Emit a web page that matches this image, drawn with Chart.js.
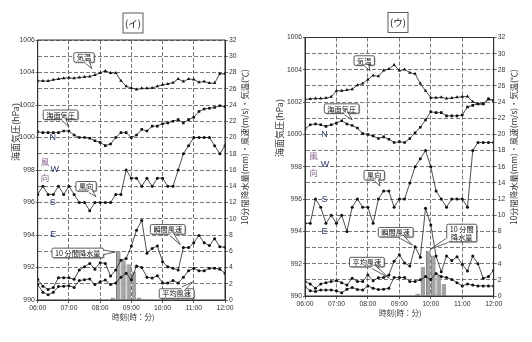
<!DOCTYPE html>
<html>
<head>
<meta charset="utf-8">
<script src="https://cdn.jsdelivr.net/npm/chart.js@4.4.1/dist/chart.umd.min.js"></script>
<style>
html, body { margin: 0; padding: 0; background: #fff; }
#wrap { position: relative; width: 532px; height: 342px; }
canvas { position: absolute; top: 0; }
</style>
</head>
<body>
<div id="wrap">
  <canvas id="c1" width="266" height="342" style="left:0"></canvas>
  <canvas id="c2" width="266" height="342" style="left:266px"></canvas>
</div>
<script>
// time axis: 06:00 - 12:00, every 10 minutes (minutes after 06:00)
const hourLabels = ['06:00', '07:00', '08:00', '09:00', '10:00', '11:00', '12:00'];
const minutes = [];
for (let m = 0; m <= 360; m += 10) minutes.push(m);

// wind direction letters -> value on the right axis
const dirLevels = { N: 20, W: 16, S: 12, E: 8 };

// (イ)
const tempA = [27.0, 26.95, 26.95, 27.1, 27.2, 27.3, 27.35, 27.3, 27.4, 27.45, 27.5, 27.7, 27.95, 28.2, 27.95, 27.95, 27.0, 26.3, 26.1, 25.9, 26.05, 26.05, 26.1, 26.3, 26.5, 26.6, 26.75, 27.2, 26.9, 27.2, 27.15, 26.8, 26.9, 26.7, 26.7, 27.85, 27.85];
const presA = [1000.35, 1000.3, 1000.3, 1000.3, 1000.3, 1000.4, 1000.4, 1000.15, 1000.0, 1000.0, 999.95, 999.8, 999.7, 999.5, 999.6, 1000.0, 1000.3, 1000.3, 1000.0, 1000.15, 1000.5, 1000.4, 1000.7, 1000.7, 1000.85, 1000.9, 1001.0, 1001.1, 1000.9, 1001.1, 1001.25, 1001.6, 1001.75, 1001.8, 1001.85, 1001.95, 1001.9];
const dirA = [13, 14, 13, 13, 14, 13, 14, 13, 12, 12, 11, 12, 12, 12, 12, 13, 13, 16, 15, 15, 14, 15, 14, 15, 15, 14, 14, 16, 18, 19, 20, 20, 20, 20, 19, 18, 19];
const gustA = [2.55, 1.7, 1.3, 1.55, 2.75, 2.75, 2.75, 2.55, 3.7, 4.1, 4.5, 3.8, 4.6, 4.5, 2.95, 3.7, 4.9, 5.1, 6.65, 8.6, 9.8, 5.75, 6.35, 6.65, 4.7, 4.1, 3.9, 3.7, 6.45, 6.45, 7.05, 7.95, 7.05, 6.7, 7.55, 6.55, 6.5];
const meanA = [1.9, 0.95, 0.65, 0.95, 1.65, 1.7, 1.75, 1.55, 2.4, 2.5, 2.6, 1.9, 2.25, 2.45, 1.9, 2.1, 2.8, 3.3, 2.5, 4.2, 4.0, 2.8, 2.7, 3.0, 2.1, 2.1, 2.4, 2.1, 2.8, 3.6, 3.9, 3.6, 3.6, 3.9, 3.9, 3.8, 3.3];
const rainEndA = [150, 160, 170, 180, 190, 200];   // end of each 10-minute period
const rainA = [0.3, 6.0, 4.9, 4.4, 3.5, 0.3];

// (ウ)
const tempB = [24.35, 24.4, 24.45, 24.45, 24.5, 24.65, 25.4, 25.4, 25.5, 25.6, 26.1, 26.3, 26.8, 27.3, 27.2, 27.9, 28.1, 28.6, 27.9, 28.05, 27.65, 27.5, 26.3, 25.4, 24.55, 24.55, 24.6, 24.45, 24.5, 24.6, 24.65, 24.7, 24.05, 23.75, 23.75, 24.35, 24.2];
const presB = [1000.35, 1000.6, 1000.65, 1000.6, 1000.5, 1000.6, 1000.7, 1000.85, 1000.65, 1000.55, 1000.4, 1000.05, 1000.0, 999.9, 999.75, 999.85, 999.7, 999.5, 999.55, 999.5, 999.75, 1000.1, 1000.45, 1000.9, 1001.4, 1001.35, 1001.35, 1001.15, 1001.15, 1001.15, 1001.2, 1001.7, 1001.8, 1001.9, 1001.9, 1002.2, 1002.1];
const dirB = [9, 9, 12, 11, 9, 10, 9, 10, 8, 11, 12, 11, 11, 9, 12, 13, 13, 11, 12, 12, 14, 16, 17, 18, 16, 13, 12, 11, 12, 12, 12, 11, 18, 19, 19, 19, 19];
const gustB = [1.8, 1.5, 0.95, 1.5, 1.65, 1.8, 1.9, 1.65, 1.35, 2.2, 1.8, 1.8, 2.6, 1.9, 2.25, 2.3, 2.6, 4.3, 5.1, 4.1, 3.7, 6.1, 4.8, 10.85, 8.8, 4.95, 3.0, 4.95, 4.4, 4.85, 3.9, 3.1, 4.95, 4.0, 2.2, 2.4, 3.2];
const meanB = [1.15, 0.65, 0.55, 0.75, 0.75, 0.75, 0.65, 0.4, 0.85, 1.05, 0.8, 0.75, 1.25, 0.95, 0.8, 0.85, 0.95, 2.3, 2.3, 2.3, 1.8, 1.8, 2.0, 2.4, 2.05, 2.8, 2.4, 2.3, 2.05, 1.65, 1.25, 1.5, 1.35, 1.25, 1.25, 1.25, 1.25];
const rainEndB = [220, 230, 240, 250, 260, 270];
const rainB = [0.3, 3.6, 5.6, 5.0, 2.6, 1.5];

const NUM = "'Liberation Sans', Arial, sans-serif";
const JP = "'Noto Sans CJK JP', 'Noto Sans', sans-serif";
const TICK_FONT = { family: NUM, size: 6.8 };

function boxPath(ctx, x, y, w, h, r) {
  ctx.beginPath();
  ctx.moveTo(x + r, y);
  ctx.lineTo(x + w - r, y);
  ctx.arcTo(x + w, y, x + w, y + r, r);
  ctx.lineTo(x + w, y + h - r);
  ctx.arcTo(x + w, y + h, x + w - r, y + h, r);
  ctx.lineTo(x + r, y + h);
  ctx.arcTo(x, y + h, x, y + h - r, r);
  ctx.lineTo(x, y + r);
  ctx.arcTo(x, y, x + r, y, r);
  ctx.closePath();
}

function drawCallout(ctx, chart, co) {
  const sx = chart.scales.x, sy = chart.scales.y2;
  const cx = sx.getPixelForValue(co.c[0]), cy = sy.getPixelForValue(co.c[1]);
  const tx = sx.getPixelForValue(co.tip[0]), ty = sy.getPixelForValue(co.tip[1]);
  ctx.save();
  ctx.font = '7.2px ' + JP;
  const lh = 8;
  const w = Math.max(...co.t.map(s => ctx.measureText(s).width)) + 6;
  const h = co.t.length * lh + 1.5;
  const x0 = cx - w / 2, y0 = cy - h / 2;
  ctx.shadowColor = 'rgba(0,0,0,0.35)';
  ctx.shadowOffsetX = 1; ctx.shadowOffsetY = 1; ctx.shadowBlur = 1;
  boxPath(ctx, x0, y0, w, h, 1.5);
  ctx.fillStyle = '#fff';
  ctx.fill();
  ctx.shadowColor = 'transparent';
  ctx.strokeStyle = '#333';
  ctx.lineWidth = 0.8;
  ctx.stroke();
  // tail
  const dx = tx - cx, dy = ty - cy, len = Math.hypot(dx, dy);
  const ux = dx / len, uy = dy / len;
  const t = Math.min(Math.abs(dx) > 0.01 ? (w / 2) / Math.abs(dx) : Infinity,
                     Math.abs(dy) > 0.01 ? (h / 2) / Math.abs(dy) : Infinity);
  const ex = cx + dx * t, ey = cy + dy * t;
  const half = 2.2;
  const b1x = ex - uy * half, b1y = ey + ux * half;
  const b2x = ex + uy * half, b2y = ey - ux * half;
  ctx.beginPath();
  ctx.moveTo(b1x - ux * 1.2, b1y - uy * 1.2);
  ctx.lineTo(tx, ty);
  ctx.lineTo(b2x - ux * 1.2, b2y - uy * 1.2);
  ctx.closePath();
  ctx.fill();
  ctx.beginPath();
  ctx.moveTo(b1x, b1y);
  ctx.lineTo(tx, ty);
  ctx.lineTo(b2x, b2y);
  ctx.stroke();
  ctx.fillStyle = '#111';
  ctx.textAlign = 'center';
  ctx.textBaseline = 'middle';
  co.t.forEach((s, i) => ctx.fillText(s, cx, y0 + 1 + lh * (i + 0.5)));
  ctx.restore();
}

const panelPlugin = {
  id: 'panel',
  afterDraw(chart, args, o) {
    const ctx = chart.ctx;
    const a = chart.chartArea;
    const sx = chart.scales.x, sy = chart.scales.y2;
    ctx.save();
    // frame
    ctx.strokeStyle = '#333';
    ctx.lineWidth = 1;
    ctx.strokeRect(a.left, a.top, a.right - a.left, a.bottom - a.top);

    // panel title in a box
    ctx.font = '9.5px ' + JP;
    ctx.fillStyle = '#111';
    ctx.textAlign = 'center';
    ctx.textBaseline = 'middle';
    ctx.fillText(o.title, o.titlePos[0], o.titlePos[1]);
    ctx.lineWidth = 0.8;
    ctx.strokeRect(o.titlePos[0] - 10, o.titlePos[1] - 10, 20, 20);

    // axis titles
    ctx.fillStyle = '#333';
    ctx.font = '9px ' + JP;
    ctx.save();
    ctx.translate(o.leftTitle[0], o.leftTitle[1]);
    ctx.rotate(-Math.PI / 2);
    ctx.fillText('海面気圧(hPa)', 0, 0);
    ctx.restore();
    ctx.font = '8.3px ' + JP;
    ctx.save();
    ctx.translate(o.rightTitle[0], o.rightTitle[1]);
    ctx.rotate(-Math.PI / 2);
    ctx.fillText('10分間降水量(mm)・風速(m/s)・気温(℃)', 0, 0);
    ctx.restore();
    ctx.font = '7.5px ' + JP;
    ctx.fillText('時刻(時：分)', o.xTitle[0], o.xTitle[1]);

    // wind direction letters
    ctx.font = '9px ' + NUM;
    ctx.fillStyle = '#2e3d6e';
    o.dirText.forEach(d => {
      ctx.fillText(d.t, sx.getPixelForValue(d.m), sy.getPixelForValue(dirLevels[d.t] + (d.dv || 0)));
    });
    ctx.font = '8.5px ' + JP;
    ctx.fillStyle = '#85608a';
    o.kaze.forEach(d => ctx.fillText(d.t, sx.getPixelForValue(d.m), sy.getPixelForValue(d.v)));
    ctx.restore();

    o.callouts.forEach(co => drawCallout(ctx, chart, co));
  }
};

function lineSet(label, arr, axis, style, r) {
  return {
    type: 'line', label, yAxisID: axis,
    data: minutes.map((m, i) => ({ x: m, y: arr[i] })),
    borderColor: '#222', borderWidth: 0.8,
    pointStyle: style, pointRadius: r, pointBackgroundColor: '#111',
    pointBorderColor: '#111', pointBorderWidth: 0,
    tension: 0, order: 1
  };
}

function makePanel(id, d, L) {
  const gridCol = '#555';
  return new Chart(document.getElementById(id), {
    type: 'line',
    data: {
      datasets: [
        {
          type: 'bar', label: '10分間降水量', yAxisID: 'y2',
          data: d.rainEnd.map((e, i) => ({ x: e - 5, y: d.rain[i] })),
          backgroundColor: '#a2a2a2', borderColor: '#6e6e6e',
          borderWidth: { left: 1, right: 0, top: 0, bottom: 0 },
          barPercentage: 1, categoryPercentage: 0.88, order: 2
        },
        lineSet('気温', d.temp, 'y2', 'triangle', 2),
        lineSet('海面気圧', d.pres, 'y', 'rect', 1.8),
        lineSet('風向', d.dir, 'y2', 'circle', 1.5),
        lineSet('瞬間風速', d.gust, 'y2', 'circle', 1.5),
        lineSet('平均風速', d.mean, 'y2', 'circle', 1.5)
      ]
    },
    options: {
      responsive: false, animation: false, devicePixelRatio: 1,
      layout: { padding: { left: 0, right: 0, top: L.padTop, bottom: 0 } },
      plugins: {
        legend: { display: false }, tooltip: { enabled: false },
        panel: L
      },
      scales: {
        x: {
          type: 'linear', min: 0, max: 360, offset: false,
          ticks: { stepSize: 60, autoSkip: false, maxRotation: 0, padding: 1,
                   font: TICK_FONT, color: '#333',
                   callback: v => hourLabels[v / 60] },
          grid: { color: gridCol, lineWidth: 0.8, tickLength: 3, tickColor: '#333', offset: false },
          border: { color: '#333', dash: [4, 2] },
          afterFit: s => { s.height = L.xH; }
        },
        y: {
          type: 'linear', position: 'left', min: 990, max: 1006,
          ticks: { stepSize: 1, autoSkip: false, padding: 1, font: TICK_FONT, color: '#333',
                   callback: v => (v % 2 === 0 ? String(v) : '') },
          grid: { color: gridCol, lineWidth: 0.8, tickLength: 2,
                  tickColor: c => (c.tick && c.tick.value % 2 === 0 ? '#333' : 'rgba(0,0,0,0)') },
          border: { color: '#333', dash: [4, 2] },
          afterFit: s => { s.width = L.yW; }
        },
        y2: {
          type: 'linear', position: 'right', min: 0, max: 32,
          ticks: { stepSize: 2, autoSkip: false, padding: 1, font: TICK_FONT, color: '#333' },
          grid: { drawOnChartArea: false, tickLength: 3, color: '#333', lineWidth: 0.7 },
          border: { color: '#333' },
          afterFit: s => { s.width = L.y2W; }
        }
      }
    },
    plugins: [panelPlugin]
  });
}

makePanel('c1',
  { temp: tempA, pres: presA, dir: dirA, gust: gustA, mean: meanA, rainEnd: rainEndA, rain: rainA },
  {
    yW: 37.7, y2W: 41, padTop: 40, xH: 42,
    title: '(イ)', titlePos: [133, 23],
    leftTitle: [15.5, 132], rightTitle: [245, 147], xTitle: [133.3, 317.3],
    dirText: [{ t: 'N', m: 29 }, { t: 'W', m: 33 }, { t: 'S', m: 29 }, { t: 'E', m: 30 }],
    kaze: [{ t: '風', m: 14, v: 17.0 }, { t: '向', m: 14, v: 15.05 }],
    callouts: [
      { t: ['気温'], c: [89, 29.85], tip: [104, 28.5] },
      { t: ['海面気圧'], c: [44, 22.8], tip: [60, 21.3] },
      { t: ['風向'], c: [93, 14.0], tip: [112, 12.7] },
      { t: ['瞬間風速'], c: [250, 8.7], tip: [274, 6.8] },
      { t: ['10 分間降水量'], c: [77, 5.8], tip: [149, 5.9] },
      { t: ['平均風速'], c: [267, 0.8], tip: [298, 2.25] }
    ]
  });

makePanel('c2',
  { temp: tempB, pres: presB, dir: dirB, gust: gustB, mean: meanB, rainEnd: rainEndB, rain: rainB },
  {
    yW: 39, y2W: 38.3, padTop: 37.5, xH: 46,
    title: '(ウ)', titlePos: [132, 22.5],
    leftTitle: [13.5, 128], rightTitle: [247.7, 147], xTitle: [134.3, 312.7],
    dirText: [{ t: 'N', m: 37 }, { t: 'W', m: 38, dv: 0.3 }, { t: 'S', m: 37 }, { t: 'E', m: 37 }],
    kaze: [{ t: '風', m: 16, v: 17.3 }, { t: '向', m: 16, v: 15.2 }],
    callouts: [
      { t: ['気温'], c: [113, 29.15], tip: [124, 27.85] },
      { t: ['海面気圧'], c: [70, 23.2], tip: [90, 21.8] },
      { t: ['風向'], c: [132, 14.95], tip: [143, 13.6] },
      { t: ['瞬間風速'], c: [173, 7.9], tip: [205, 6.3] },
      { t: ['10 分間', '降水量'], c: [299, 7.8], tip: [239, 5.8] },
      { t: ['平均風速'], c: [118, 4.2], tip: [161, 2.2] }
    ]
  });
</script>
</body>
</html>
